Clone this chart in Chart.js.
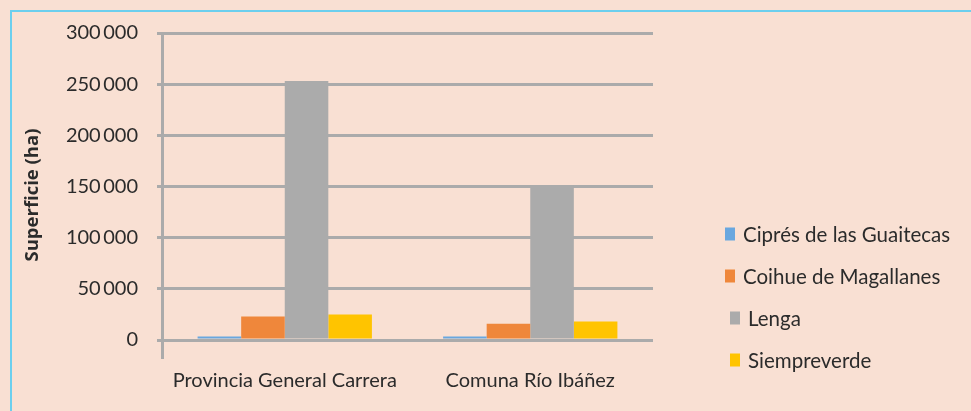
<!DOCTYPE html>
<html>
<head>
<meta charset="utf-8">
<script src="https://cdn.jsdelivr.net/npm/chart.js@4.4.1/dist/chart.umd.min.js"></script>
<style>
  html, body { margin: 0; padding: 0; background: #f9e0d3; }
  #wrap { position: relative; width: 971px; height: 411px; overflow: hidden; }
  #frame {
    position: absolute; left: 10px; top: 10px; width: 980px; height: 420px;
    border-left: 2px solid #6ccfee; border-top: 2px solid #6ccfee;
  }
  canvas { position: absolute; left: 0; top: 0; }
</style>
</head>
<body>
<div id="wrap">
  <div id="frame"></div>
  <canvas id="chart" width="971" height="411"></canvas>
</div>
<script>
// ========== DATA ==========
const categories = ["Provincia General Carrera", "Comuna Río Ibáñez"];
const seriesNames = ["Ciprés de las Guaitecas", "Coihue de Magallanes", "Lenga", "Siempreverde"];
const cipres = [3500, 3500];
const coihue = [23000, 16000];
const lenga = [253000, 151000];
const siempreverde = [25000, 18000];
const yTicks = [0, 50000, 100000, 150000, 200000, 250000, 300000];
const colors = ["#69a7df", "#ef873b", "#ababab", "#ffc400"];

const FONT = "Lato, 'Open Sans', sans-serif";
const TEXT = "#2b2b2b";

// thin space between thousands like the original
function fmt(v) {
  return String(v).replace(/\B(?=(\d{3})+(?!\d))/g, "\u2009");
}

// ========== LEGEND (drawn on the right) ==========
const sideLegend = {
  id: "sideLegend",
  afterDraw(chart) {
    const ctx = chart.ctx;
    const indent = [0, 0, 5, 5];
    ctx.save();
    ctx.font = "20.5px " + FONT;
    ctx.textBaseline = "middle";
    chart.data.datasets.forEach((ds, i) => {
      const x = 725 + indent[i];
      const y = 234 + i * 42;
      ctx.fillStyle = ds.backgroundColor;
      ctx.fillRect(x, y - 6.5, 10, 13);
      ctx.fillStyle = TEXT;
      ctx.fillText(ds.label, x + 18, y + 1);
    });
    ctx.restore();
  }
};

// ========== CHART ==========
const seriesValues = [cipres, coihue, lenga, siempreverde];

new Chart(document.getElementById("chart"), {
  type: "bar",
  data: {
    labels: categories,
    datasets: seriesNames.map((name, i) => ({
      label: name,
      data: seriesValues[i],
      backgroundColor: colors[i],
      borderWidth: 0
    }))
  },
  options: {
    responsive: false,
    animation: false,
    layout: { padding: { left: 22, top: 33, right: 318, bottom: 14 } },
    datasets: { bar: { categoryPercentage: 0.71, barPercentage: 1 } },
    plugins: {
      legend: { display: false },
      tooltip: { enabled: false }
    },
    scales: {
      x: {
        grid: { display: false },
        border: { display: false },
        ticks: { color: TEXT, font: { family: FONT, size: 20 }, padding: 4 },
        afterFit(scale) { scale.height = 40; }
      },
      y: {
        min: -16600,
        max: 300000,
        afterBuildTicks(scale) {
          scale.ticks = yTicks.map((v) => ({ value: v }));
        },
        afterFit(scale) { scale.width = 140; },
        grid: { color: "#ababab", lineWidth: 3, tickLength: 5 },
        border: { display: true, color: "#ababab", width: 3 },
        ticks: {
          color: TEXT,
          font: { family: FONT, size: 20 },
          padding: 19,
          callback: (v) => fmt(v)
        },
        title: {
          display: true,
          text: "Superficie (ha)",
          color: TEXT,
          font: { family: "'Open Sans', sans-serif", size: 18.5, weight: "bold" },
          padding: 0
        }
      }
    }
  },
  plugins: [sideLegend]
});
</script>
</body>
</html>
